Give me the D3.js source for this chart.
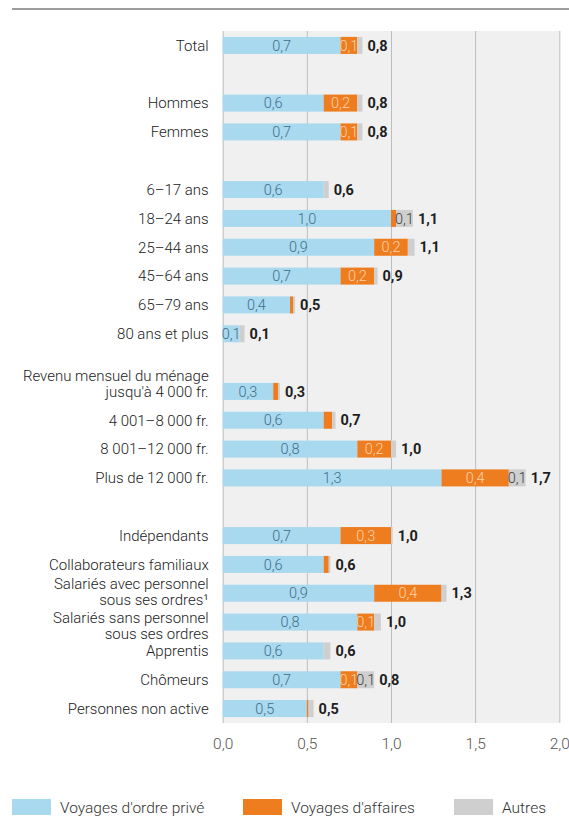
<!DOCTYPE html>
<html lang="fr">
<head>
<meta charset="utf-8">
<script src="https://cdn.jsdelivr.net/npm/d3@7"></script>
<style>
  html, body { margin: 0; padding: 0; background: #fff; }
  svg { display: block; font-family: Roboto, "Noto Sans", sans-serif; }
</style>
</head>
<body>
<svg id="chart" width="569" height="820"></svg>
<script>
// Nombre de voyages par personne, selon le motif
const categories = [
  "Total",
  "Hommes", "Femmes",
  "6–17 ans", "18–24 ans", "25–44 ans", "45–64 ans", "65–79 ans", "80 ans et plus",
  "Revenu mensuel du ménage\njusqu'à 4\u00a0000 fr.", "4\u00a0001–8\u00a0000 fr.", "8\u00a0001–12\u00a0000 fr.", "Plus de 12\u00a0000 fr.",
  "Indépendants", "Collaborateurs familiaux", "Salariés avec personnel\nsous ses ordres¹",
  "Salariés sans personnel\nsous ses ordres", "Apprentis", "Chômeurs", "Personnes non active"
];
const groupIndex = [0, 1, 1, 2, 2, 2, 2, 2, 2, 3, 3, 3, 3, 4, 4, 4, 4, 4, 4, 4];

const privateTrips  = [0.7, 0.6, 0.7, 0.6, 1.0, 0.9, 0.7, 0.4, 0.1, 0.3, 0.6, 0.8, 1.3, 0.7, 0.6, 0.9, 0.8, 0.6, 0.7, 0.5];
const businessTrips = [0.1, 0.2, 0.1, 0, 0.03, 0.2, 0.2, 0.02, 0, 0.03, 0.05, 0.2, 0.4, 0.3, 0.03, 0.4, 0.1, 0, 0.1, 0.01];
const otherTrips    = [0.03, 0.03, 0.03, 0.03, 0.1, 0.04, 0.02, 0.01, 0.03, 0.01, 0.02, 0.03, 0.1, 0.01, 0.01, 0.03, 0.04, 0.04, 0.1, 0.03];
const totals        = [0.8, 0.8, 0.8, 0.6, 1.1, 1.1, 0.9, 0.5, 0.1, 0.3, 0.7, 1.0, 1.7, 1.0, 0.6, 1.3, 1.0, 0.6, 0.8, 0.5];

const seriesKeys   = ["prive", "affaires", "autres"];
const seriesNames  = ["Voyages d'ordre privé", "Voyages d'affaires", "Autres"];
const xTicks       = [0, 0.5, 1, 1.5, 2];

// Which line of a two-line label sits on the bar's centre line
const labelAnchorLine = { 9: 1, 15: 0.6, 16: 0.25 };

const colors = { prive: "#a9d9ef", affaires: "#ee7d1f", autres: "#cfcfcf" };
const segLabelColors = { prive: "#3f6d8a", affaires: "#fcd3ae", autres: "#3a3a3a" };

const fmt = v => d3.format(".1f")(v).replace(".", ",");

const svg = d3.select("#chart");
const plot = { left: 222.7, right: 559.3, top: 31, bottom: 723 };

// Each group is followed by an empty row
const rowOf = categories.map((c, i) => i + groupIndex[i]);
const nRows = d3.max(rowOf) + 1;

const x = d3.scaleLinear().domain([0, 2]).range([plot.left, plot.right]);
const y = d3.scaleBand()
  .domain(d3.range(nRows))
  .range([plot.top, plot.bottom])
  .paddingInner(0.41)
  .paddingOuter(0.205);

// Top rule
svg.append("line")
  .attr("x1", 12).attr("x2", 569).attr("y1", 9).attr("y2", 9)
  .attr("stroke", "#7d7d7d").attr("stroke-width", 1.5);

// Plot background and grid
svg.append("rect")
  .attr("x", plot.left).attr("y", plot.top)
  .attr("width", plot.right - plot.left).attr("height", plot.bottom - plot.top)
  .attr("fill", "#f0f0f0");

const xAxis = d3.axisBottom(x)
  .tickValues(xTicks)
  .tickSize(-(plot.bottom - plot.top))
  .tickPadding(15)
  .tickFormat(fmt);

const gx = svg.append("g")
  .attr("transform", `translate(0,${plot.bottom})`)
  .call(xAxis);
gx.select(".domain").remove();
gx.selectAll(".tick line").attr("stroke", "#bdbdbd").attr("stroke-width", 1);
gx.selectAll(".tick text")
  .attr("fill", "#555")
  .attr("font-size", 15.5)
  .attr("font-weight", 300)
  .attr("font-family", "Roboto, sans-serif");

// Stacked bars
const rows = categories.map((c, i) => ({
  i, prive: privateTrips[i], affaires: businessTrips[i], autres: otherTrips[i]
}));
const stacked = d3.stack().keys(seriesKeys)(rows);

const layers = svg.append("g").selectAll("g")
  .data(stacked)
  .join("g")
  .attr("fill", d => colors[d.key]);

layers.selectAll("rect")
  .data(d => d)
  .join("rect")
  .attr("x", d => x(d[0]))
  .attr("width", d => x(d[1]) - x(d[0]))
  .attr("y", d => y(rowOf[d.data.i]))
  .attr("height", y.bandwidth());

// Values inside the segments
stacked.forEach(layer => {
  svg.append("g").selectAll("text")
    .data(layer.filter(d => d[1] - d[0] >= 0.095))
    .join("text")
    .attr("x", d => x((d[0] + d[1]) / 2))
    .attr("y", d => y(rowOf[d.data.i]) + y.bandwidth() / 2)
    .attr("dy", "0.36em")
    .attr("text-anchor", "middle")
    .attr("font-size", 14.5)
    .attr("font-weight", 300)
    .attr("fill", segLabelColors[layer.key])
    .text(d => fmt(d[1] - d[0]));
});

// Totals after each bar
svg.append("g").selectAll("text")
  .data(rows)
  .join("text")
  .attr("x", d => x(d.prive + d.affaires + d.autres) + 5)
  .attr("y", d => y(rowOf[d.i]) + y.bandwidth() / 2)
  .attr("dy", "0.36em")
  .attr("font-size", 14.5)
  .attr("font-weight", 700)
  .attr("fill", "#1e1e1e")
  .text(d => fmt(totals[d.i]));

// Category labels
const lineHeight = 16;
const catLabels = svg.append("g").selectAll("text")
  .data(categories)
  .join("text")
  .attr("text-anchor", "end")
  .attr("font-size", 15)
  .attr("font-weight", 300)
  .attr("fill", "#222")
  .attr("transform", (c, i) => {
    const anchor = labelAnchorLine[i] !== undefined ? labelAnchorLine[i] : 0;
    const cy = y(rowOf[i]) + y.bandwidth() / 2 - anchor * lineHeight;
    return `translate(${plot.left - 14},${cy})`;
  });
catLabels.selectAll("tspan")
  .data(c => c.split("\n"))
  .join("tspan")
  .attr("x", 0)
  .attr("y", (l, k) => k * lineHeight)
  .attr("dy", "0.36em")
  .text(l => l);

// Legend
const legendX = [12, 243, 454];
const legend = svg.append("g").selectAll("g")
  .data(seriesKeys)
  .join("g")
  .attr("transform", (k, i) => `translate(${legendX[i]},799)`);
legend.append("rect")
  .attr("width", 39).attr("height", 16)
  .attr("fill", k => colors[k]);
legend.append("text")
  .attr("x", 48).attr("y", 8).attr("dy", "0.36em")
  .attr("font-size", 15.5)
  .attr("font-weight", 300)
  .attr("fill", "#333")
  .text((k, i) => seriesNames[i]);
</script>
</body>
</html>
